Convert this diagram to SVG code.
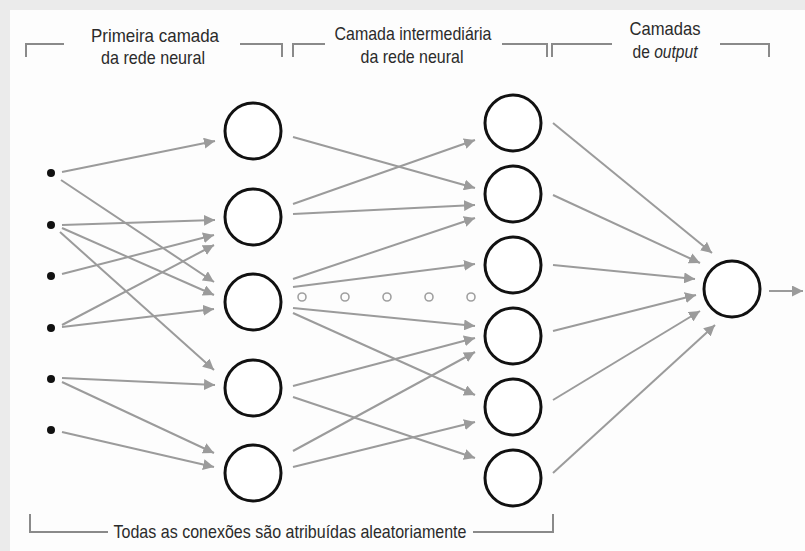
<svg xmlns="http://www.w3.org/2000/svg" width="805" height="551" viewBox="0 0 805 551">
<defs>
<marker id="ah" markerUnits="userSpaceOnUse" markerWidth="12" markerHeight="11" refX="11" refY="5.5" orient="auto">
<path d="M0,0 L11,5.5 L0,11 z" fill="#9b9b9b"/>
</marker>
<style>
.bg{fill:#ebebeb}
.paper{fill:#fdfdfd}
.lbl{font-family:"Liberation Sans",Arial,sans-serif;font-size:19px;fill:#2b2b2b;text-anchor:middle}
.br{fill:none;stroke:#8a8a8a;stroke-width:2}
.neuron{fill:#ffffff;stroke:#111111;stroke-width:3}
.inp{fill:#111111}
.c{stroke:#9b9b9b;stroke-width:2;fill:none;marker-end:url(#ah)}
.dot{fill:none;stroke:#a0a0a0;stroke-width:1.6}
</style>
</defs>
<rect class="bg" x="0" y="0" width="805" height="551"/>
<rect class="paper" x="10" y="10" width="795" height="541"/>

<g id="headers">
<path class="br" d="M26,57 V44 H64"/>
<path class="br" d="M240,44 H282 V57"/>
<text class="lbl" x="155" y="42" textLength="128" lengthAdjust="spacingAndGlyphs">Primeira camada</text>
<text class="lbl" x="153" y="64" textLength="104" lengthAdjust="spacingAndGlyphs">da rede neural</text>
<path class="br" d="M293,57 V44 H325"/>
<path class="br" d="M502,44 H547 V57"/>
<text class="lbl" x="413" y="40" textLength="157" lengthAdjust="spacingAndGlyphs">Camada intermediária</text>
<text class="lbl" x="412" y="63" textLength="103" lengthAdjust="spacingAndGlyphs">da rede neural</text>
<path class="br" d="M552,57 V44 H612"/>
<path class="br" d="M720,44 H769 V57"/>
<text class="lbl" x="665" y="35" textLength="71" lengthAdjust="spacingAndGlyphs">Camadas</text>
<text class="lbl" transform="translate(665,58) scale(0.82,1)" x="0" y="0">de <tspan font-style="italic">output</tspan></text>
</g>

<g id="footer">
<path class="br" d="M30,514 V532 H108"/>
<path class="br" d="M473,532 H553 V514"/>
<text class="lbl" x="290" y="538" textLength="353" lengthAdjust="spacingAndGlyphs">Todas as conexões são atribuídas aleatoriamente</text>
</g>

<g id="connectors">
<line class="c" x1="62" y1="172" x2="215" y2="141"/>
<line class="c" x1="61" y1="180" x2="214" y2="282"/>
<line class="c" x1="62" y1="225" x2="215" y2="220"/>
<line class="c" x1="62" y1="228" x2="214" y2="295"/>
<line class="c" x1="60" y1="232" x2="214" y2="370"/>
<line class="c" x1="62" y1="274" x2="214" y2="235"/>
<line class="c" x1="62" y1="325" x2="214" y2="245"/>
<line class="c" x1="62" y1="327" x2="214" y2="309"/>
<line class="c" x1="62" y1="378" x2="215" y2="385"/>
<line class="c" x1="62" y1="382" x2="214" y2="453"/>
<line class="c" x1="62" y1="432" x2="214" y2="467"/>
<line class="c" x1="293" y1="137" x2="475" y2="188"/>
<line class="c" x1="293" y1="204" x2="475" y2="140"/>
<line class="c" x1="293" y1="214" x2="475" y2="205"/>
<line class="c" x1="293" y1="279" x2="475" y2="218"/>
<line class="c" x1="293" y1="287" x2="475" y2="264"/>
<line class="c" x1="293" y1="308" x2="475" y2="326"/>
<line class="c" x1="293" y1="313" x2="475" y2="395"/>
<line class="c" x1="293" y1="386" x2="475" y2="338"/>
<line class="c" x1="293" y1="397" x2="475" y2="458"/>
<line class="c" x1="293" y1="451" x2="475" y2="352"/>
<line class="c" x1="293" y1="467" x2="475" y2="422"/>
<line class="c" x1="553" y1="123" x2="712" y2="253"/>
<line class="c" x1="553" y1="195" x2="700" y2="263"/>
<line class="c" x1="553" y1="265" x2="695" y2="279"/>
<line class="c" x1="553" y1="331" x2="696" y2="295"/>
<line class="c" x1="553" y1="400" x2="700" y2="311"/>
<line class="c" x1="553" y1="473" x2="715" y2="325"/>
<line class="c" x1="769" y1="291" x2="803" y2="291"/>
</g>

<g id="ellipsis">
<circle class="dot" cx="302" cy="297" r="4"/>
<circle class="dot" cx="345" cy="297" r="4"/>
<circle class="dot" cx="387" cy="297" r="4"/>
<circle class="dot" cx="429" cy="297" r="4"/>
<circle class="dot" cx="471" cy="297" r="4"/>
</g>

<g id="inputs">
<circle class="inp" cx="51" cy="173" r="4"/>
<circle class="inp" cx="51" cy="225" r="4"/>
<circle class="inp" cx="51" cy="276" r="4"/>
<circle class="inp" cx="51" cy="328" r="4"/>
<circle class="inp" cx="51" cy="379" r="4"/>
<circle class="inp" cx="51" cy="430" r="4"/>
</g>

<g id="layer1">
<g id="h1-1"><circle class="neuron" cx="253" cy="131" r="28"/></g>
<g id="h1-2"><circle class="neuron" cx="253" cy="217" r="28"/></g>
<g id="h1-3"><circle class="neuron" cx="253" cy="302" r="28"/></g>
<g id="h1-4"><circle class="neuron" cx="253" cy="388" r="28"/></g>
<g id="h1-5"><circle class="neuron" cx="253" cy="473" r="28"/></g>
</g>

<g id="layer2">
<g id="h2-1"><circle class="neuron" cx="513" cy="123" r="28"/></g>
<g id="h2-2"><circle class="neuron" cx="513" cy="194" r="28"/></g>
<g id="h2-3"><circle class="neuron" cx="513" cy="265" r="28"/></g>
<g id="h2-4"><circle class="neuron" cx="513" cy="336" r="28"/></g>
<g id="h2-5"><circle class="neuron" cx="513" cy="407" r="28"/></g>
<g id="h2-6"><circle class="neuron" cx="513" cy="478" r="28"/></g>
</g>

<g id="output">
<circle class="neuron" cx="732" cy="289" r="28"/>
</g>
</svg>
